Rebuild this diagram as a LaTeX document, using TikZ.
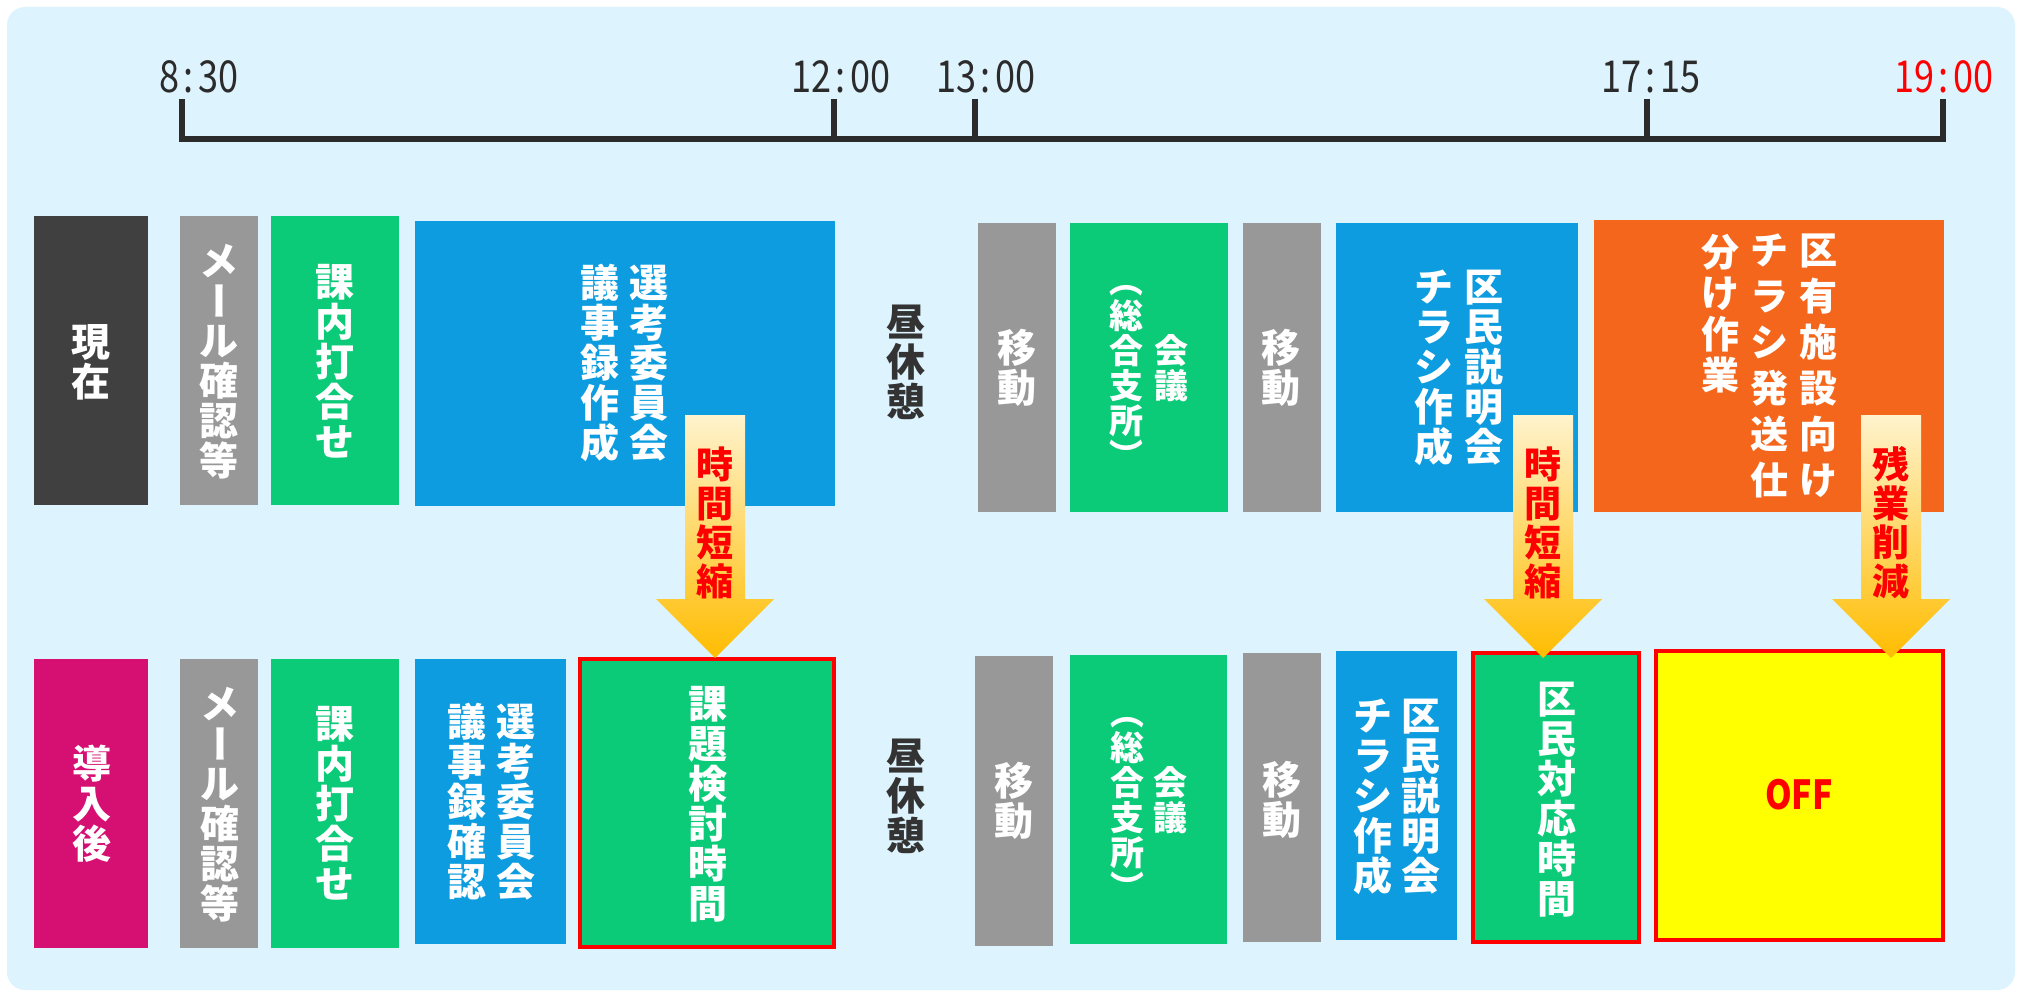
\documentclass[tikz,border=0pt]{standalone}
\usepackage{fontspec}
\newfontfamily\jp{Noto Sans CJK JP}
\definecolor{bgc}{RGB}{221,243,253}
\definecolor{cdark}{RGB}{64,64,64}
\definecolor{cgray}{RGB}{152,152,152}
\definecolor{cgreen}{RGB}{11,203,121}
\definecolor{cblue}{RGB}{12,156,223}
\definecolor{corange}{RGB}{244,102,27}
\definecolor{cmag}{RGB}{214,15,115}
\definecolor{cyel}{RGB}{255,255,0}
\definecolor{cred}{RGB}{255,0,0}
\definecolor{tl}{RGB}{43,43,43}
\definecolor{lunch}{RGB}{51,51,51}
\definecolor{arrtop}{RGB}{255,243,205}
\definecolor{arrbot}{RGB}{255,188,0}
\newcommand\vrot[1]{\rotatebox[origin=c]{-90}{\rule[-0.12em]{0pt}{1em}#1}}
\newcommand\slot[6]{\node[blk,#6,minimum width={#4-#2},minimum height={#5-#3}] (#1) at ({(#2+#4)/2},{(#3+#5)/2}) {};}
\newcommand\tsep{\hspace{5pt}:\hspace{5pt}}
\newcommand\tlabel[1]{\scalebox{0.82}[1]{#1}}
\newcommand\tightlines{\lineskiplimit=-100pt\relax\lineskip=0pt\relax}
\newcommand\bfont[2]{\jp\bfseries\fontsize{#1}{#2}\selectfont\tightlines}
\tikzset{
  blk/.style={inner sep=0pt,outer sep=0pt,draw=none},
  redbox/.style={draw=cred,line width=4pt},
  wtxt/.style={inner sep=0pt,text=white,align=center,font=\bfont{39}{40}},
  wsmall/.style={wtxt,font=\bfont{34}{35}},
  wwide/.style={wtxt,anchor=north,font=\bfont{38}{46}},
  wwide2/.style={wtxt,anchor=north,font=\bfont{38}{41}},
  lunchtxt/.style={wtxt,text=lunch},
  arrtxt/.style={inner sep=0pt,text=cred,align=center,font=\bfont{37}{39}},
  tline/.style={draw=tl,line width=6pt},
  tlab/.style={inner sep=0pt,anchor=base,text=tl,font=\jp\fontsize{44}{44}\selectfont},
  bigarrow/.style={top color=arrtop,bottom color=arrbot,draw=none},
}
\begin{document}
\begin{tikzpicture}[x=1pt,y=-1pt]
\useasboundingbox (0,0) rectangle (2022,995);
\fill[white] (0,0) rectangle (2022,995);
\fill[bgc,rounded corners=18pt] (7,7) rectangle (2015,990);

% timeline
\coordinate (t830) at (182,139);
\coordinate (t1200) at (834,139);
\coordinate (t1300) at (975,139);
\coordinate (t1715) at (1647,139);
\coordinate (t1900) at (1943,139);
\draw[tline] (182,99) -- (t830) -- (t1900) -- (1943,99);
\draw[tline] (834,99) -- (t1200);
\draw[tline] (975,99) -- (t1300);
\draw[tline] (1647,99) -- (t1715);
\node[tlab] (l830) at (199,93) {\tlabel{8\tsep 30}};
\node[tlab] (l1200) at (841,93) {\tlabel{12\tsep 00}};
\node[tlab] (l1300) at (986,93) {\tlabel{13\tsep 00}};
\node[tlab] (l1715) at (1651,93) {\tlabel{17\tsep 15}};
\node[tlab,text=cred] (l1900) at (1944,93) {\tlabel{19\tsep 00}};

% top row
\slot{a1}{34}{216}{148}{505}{fill=cdark}
\slot{a2}{180}{216}{258}{505}{fill=cgray}
\slot{a3}{271}{216}{399}{505}{fill=cgreen}
\slot{a4}{415}{221}{835}{506}{fill=cblue}
\slot{a5}{978}{223}{1056}{512}{fill=cgray}
\slot{a6}{1070}{223}{1228}{512}{fill=cgreen}
\slot{a7}{1243}{223}{1321}{512}{fill=cgray}
\slot{a8}{1336}{223}{1578}{512}{fill=cblue}
\slot{a9}{1594}{220}{1944}{512}{fill=corange}

\node[wtxt] (a1t) at (91,362) {現\\在};
\node[wtxt] (a2t) at (219,362) {メ\\\vrot{ー}\\ル\\確\\認\\等};
\node[wtxt] (a3t) at (335,361) {課\\内\\打\\合\\せ};
\node[wtxt] (a4r) at (649,363) {選\\考\\委\\員\\会};
\node[wtxt] (a4l) at (600,363) {議\\事\\録\\作\\成};
\node[lunchtxt] (lunch1) at (906,362) {昼\\休\\憩};
\node[wtxt] (a5t) at (1017,368) {移\\動};
\node[wsmall] (a6r) at (1171,368) {会\\議};
\node[wsmall] (a6l) at (1126,368) {\vrot{（}\\総\\合\\支\\所\\\vrot{）}};
\node[wtxt] (a7t) at (1281,368) {移\\動};
\node[wtxt] (a8r) at (1484,368) {区\\民\\説\\明\\会};
\node[wtxt] (a8l) at (1434,368) {チ\\ラ\\シ\\作\\成};
\node[wwide] (a9r) at (1818,234) {区\\有\\施\\設\\向\\け};
\node[wwide] (a9m) at (1769,234) {チ\\ラ\\シ\\発\\送\\仕};
\node[wwide2] (a9l) at (1720,234) {分\\け\\作\\業};

% bottom row
\slot{b1}{34}{659}{148}{948}{fill=cmag}
\slot{b2}{180}{659}{258}{948}{fill=cgray}
\slot{b3}{271}{659}{399}{948}{fill=cgreen}
\slot{b4}{415}{659}{566}{944}{fill=cblue}
\slot{b5}{580}{659}{834}{947}{fill=cgreen,redbox}
\slot{b6}{975}{656}{1053}{946}{fill=cgray}
\slot{b7}{1070}{655}{1227}{944}{fill=cgreen}
\slot{b8}{1243}{653}{1321}{942}{fill=cgray}
\slot{b9}{1336}{651}{1457}{940}{fill=cblue}
\slot{b10}{1473}{653}{1639}{942}{fill=cgreen,redbox}
\slot{b11}{1656}{651}{1943}{940}{fill=cyel,redbox}

\node[wtxt] (b1t) at (92,804) {導\\入\\後};
\node[wtxt] (b2t) at (220,805) {メ\\\vrot{ー}\\ル\\確\\認\\等};
\node[wtxt] (b3t) at (335,803) {課\\内\\打\\合\\せ};
\node[wtxt] (b4r) at (516,802) {選\\考\\委\\員\\会};
\node[wtxt] (b4l) at (467,802) {議\\事\\録\\確\\認};
\node[wtxt] (b5t) at (708,804) {課\\題\\検\\討\\時\\間};
\node[lunchtxt] (lunch2) at (906,796) {昼\\休\\憩};
\node[wtxt] (b6t) at (1014,801) {移\\動};
\node[wsmall] (b7r) at (1170,800) {会\\議};
\node[wsmall] (b7l) at (1127,800) {\vrot{（}\\総\\合\\支\\所\\\vrot{）}};
\node[wtxt] (b8t) at (1282,800) {移\\動};
\node[wtxt] (b9r) at (1421,797) {区\\民\\説\\明\\会};
\node[wtxt] (b9l) at (1373,797) {チ\\ラ\\シ\\作\\成};
\node[wtxt] (b10t) at (1557,800) {区\\民\\対\\応\\時\\間};
\node[inner sep=0pt,text=cred,font=\jp\bfseries\fontsize{40}{40}\selectfont] (b11t) at (1799,795) {\scalebox{0.85}[1]{OFF}};

% arrows
\shade[bigarrow] (685,415) -- (745,415) -- (745,599) -- (774,599) -- (715,658) -- (656,599) -- (685,599) -- cycle;
\shade[bigarrow] (1513,415) -- (1573,415) -- (1573,599) -- (1602,599) -- (1543,658) -- (1484,599) -- (1513,599) -- cycle;
\shade[bigarrow] (1861,415) -- (1921,415) -- (1921,599) -- (1950,599) -- (1891,658) -- (1832,599) -- (1861,599) -- cycle;
\node[arrtxt] (r1) at (715,523) {時\\間\\短\\縮};
\node[arrtxt] (r2) at (1543,523) {時\\間\\短\\縮};
\node[arrtxt] (r3) at (1891,523) {残\\業\\削\\減};
\end{tikzpicture}
\end{document}
